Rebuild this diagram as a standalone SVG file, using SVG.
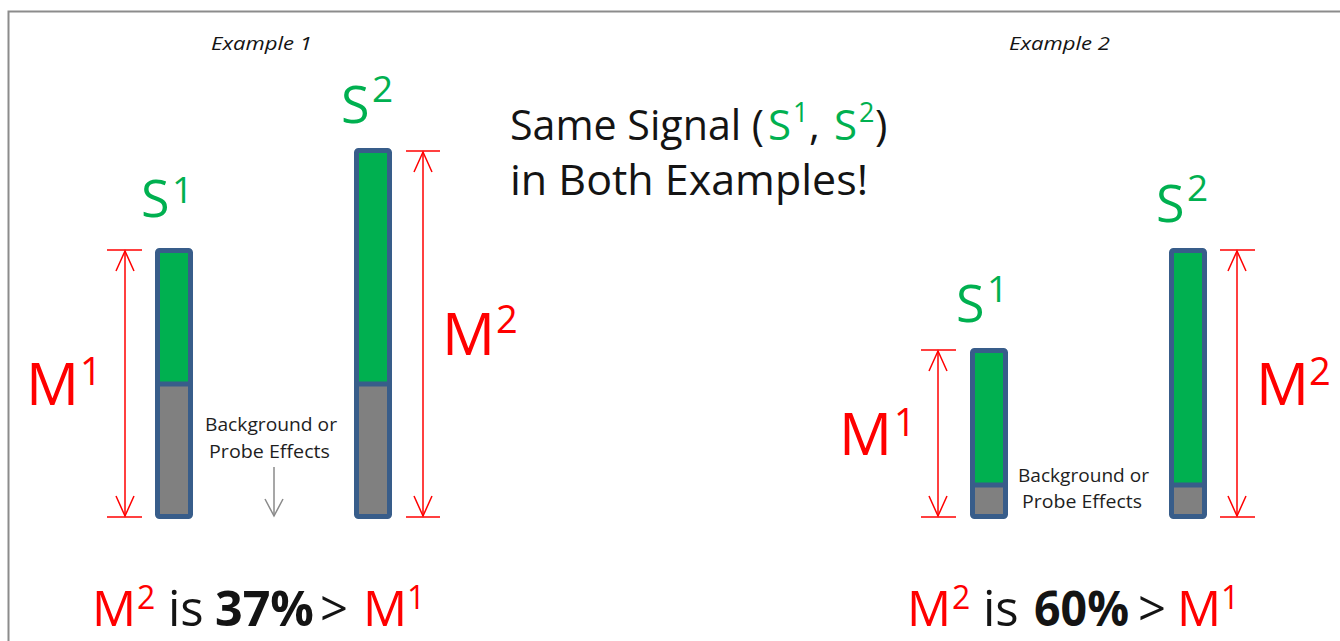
<svg xmlns="http://www.w3.org/2000/svg" width="1340" height="641" viewBox="0 0 1340 641">
  <defs>
    <style>
      text { font-family: "Open Sans", "Liberation Sans", sans-serif; }
      .ink { fill: #141414; }
      .sig { fill: #00b050; }
      .meas { fill: #ff0000; }
      .cap { font-size: 19px; font-style: italic; fill: #141414; }
      .note { font-size: 18px; fill: #1e1e1e; }
      .bar-outline { fill: none; stroke: #385d8a; stroke-width: 5; }
      .bar-div { stroke: #385d8a; stroke-width: 5; }
      .green { fill: #00b050; }
      .grey { fill: #808080; }
      .dim { stroke: #ff0000; stroke-width: 1.5; fill: none; }
      .tick { stroke: #ff0000; stroke-width: 1.5; }
      .lead { stroke: #8a8a8a; stroke-width: 1.5; fill: none; }
    </style>
    <marker id="vRed" markerUnits="userSpaceOnUse" orient="auto-start-reverse" refX="0" refY="0" overflow="visible">
      <path d="M-20,-9 L0,0 L-20,9" fill="none" stroke="#ff0000" stroke-width="1.5"/>
    </marker>
    <marker id="vGrey" markerUnits="userSpaceOnUse" orient="auto" refX="0" refY="0" overflow="visible">
      <path d="M-17,-9 L0,0 L-17,9" fill="none" stroke="#8a8a8a" stroke-width="1.5"/>
    </marker>
  </defs>

  <rect x="0" y="0" width="1340" height="641" fill="#ffffff"/>
  <!-- frame -->
  <path d="M8.5,641 L8.5,11.5 L1340,11.5" fill="none" stroke="#8c8c8c" stroke-width="2"/>

  <!-- captions -->
  <text class="cap" x="211" y="50" textLength="101" lengthAdjust="spacingAndGlyphs">Example 1</text>
  <text class="cap" x="1009" y="50" textLength="101" lengthAdjust="spacingAndGlyphs">Example 2</text>

  <!-- headline -->
  <g id="headline" font-size="42">
    <text class="ink" x="510" y="140" textLength="254" lengthAdjust="spacingAndGlyphs">Same Signal (</text>
    <text class="sig" x="768" y="140">S</text>
    <text class="sig" x="793" y="122" font-size="27">1</text>
    <text class="ink" x="809" y="140">,</text>
    <text class="sig" x="834" y="140">S</text>
    <text class="sig" x="859" y="122" font-size="27">2</text>
    <text class="ink" x="875" y="140">)</text>
    <text class="ink" x="510" y="195" textLength="358" lengthAdjust="spacingAndGlyphs">in Both Examples!</text>
  </g>

  <!-- Example 1, bar 1 -->
  <g id="ex1-bar1">
    <rect class="green" x="157.5" y="250.5" width="33" height="134"/>
    <rect class="grey" x="157.5" y="384" width="33" height="132.5"/>
    <line class="bar-div" x1="157.5" y1="384" x2="190.5" y2="384"/>
    <rect class="bar-outline" x="157.5" y="250.5" width="33" height="266" rx="2"/>
    <text class="sig" x="141" y="217" font-size="52">S</text>
    <text class="sig" x="172" y="203" font-size="37">1</text>
  </g>

  <!-- Example 1, bar 2 -->
  <g id="ex1-bar2">
    <rect class="green" x="356.5" y="150.5" width="33" height="234"/>
    <rect class="grey" x="356.5" y="384" width="33" height="132.5"/>
    <line class="bar-div" x1="356.5" y1="384" x2="389.5" y2="384"/>
    <rect class="bar-outline" x="356.5" y="150.5" width="33" height="366" rx="2"/>
    <text class="sig" x="341" y="123" font-size="52">S</text>
    <text class="sig" x="372" y="102" font-size="37">2</text>
  </g>

  <!-- Example 2, bar 1 -->
  <g id="ex2-bar1">
    <rect class="green" x="972.5" y="350.5" width="33" height="135"/>
    <rect class="grey" x="972.5" y="485" width="33" height="31.5"/>
    <line class="bar-div" x1="972.5" y1="485" x2="1005.5" y2="485"/>
    <rect class="bar-outline" x="972.5" y="350.5" width="33" height="166" rx="2"/>
    <text class="sig" x="956" y="322" font-size="52">S</text>
    <text class="sig" x="987" y="302" font-size="37">1</text>
  </g>

  <!-- Example 2, bar 2 -->
  <g id="ex2-bar2">
    <rect class="green" x="1171.5" y="250.5" width="33" height="235"/>
    <rect class="grey" x="1171.5" y="485" width="33" height="31.5"/>
    <line class="bar-div" x1="1171.5" y1="485" x2="1204.5" y2="485"/>
    <rect class="bar-outline" x="1171.5" y="250.5" width="33" height="266" rx="2"/>
    <text class="sig" x="1156" y="222" font-size="52">S</text>
    <text class="sig" x="1187" y="201" font-size="37">2</text>
  </g>

  <!-- measurement labels -->
  <g id="ex1-m1-label">
    <text class="meas" x="26" y="405" font-size="59">M</text>
    <text class="meas" x="80" y="385" font-size="38">1</text>
  </g>
  <g id="ex1-m2-label">
    <text class="meas" x="442" y="355" font-size="59">M</text>
    <text class="meas" x="496" y="333" font-size="38">2</text>
  </g>
  <g id="ex2-m1-label">
    <text class="meas" x="839" y="455" font-size="59">M</text>
    <text class="meas" x="894" y="436" font-size="38">1</text>
  </g>
  <g id="ex2-m2-label">
    <text class="meas" x="1256" y="405" font-size="59">M</text>
    <text class="meas" x="1309" y="385" font-size="38">2</text>
  </g>

  <!-- background notes -->
  <g id="ex1-note">
    <text class="note" x="205" y="431" textLength="132" lengthAdjust="spacingAndGlyphs">Background or</text>
    <text class="note" x="209" y="458" textLength="121" lengthAdjust="spacingAndGlyphs">Probe Effects</text>
  </g>
  <g id="ex2-note">
    <text class="note" x="1018" y="482" textLength="131" lengthAdjust="spacingAndGlyphs">Background or</text>
    <text class="note" x="1022" y="508" textLength="120" lengthAdjust="spacingAndGlyphs">Probe Effects</text>
  </g>

  <!-- dimension lines and pointer -->
  <g id="connectors">
    <line class="tick" x1="107" y1="250" x2="142" y2="250"/>
    <line class="tick" x1="107" y1="517" x2="142" y2="517"/>
    <line class="dim" x1="125" y1="251" x2="125" y2="516" marker-start="url(#vRed)" marker-end="url(#vRed)"/>

    <line class="tick" x1="406" y1="151" x2="440" y2="151"/>
    <line class="tick" x1="406" y1="517" x2="440" y2="517"/>
    <line class="dim" x1="423" y1="152" x2="423" y2="516" marker-start="url(#vRed)" marker-end="url(#vRed)"/>

    <line class="tick" x1="921" y1="350" x2="956" y2="350"/>
    <line class="tick" x1="921" y1="517" x2="956" y2="517"/>
    <line class="dim" x1="938" y1="351" x2="938" y2="516" marker-start="url(#vRed)" marker-end="url(#vRed)"/>

    <line class="tick" x1="1220" y1="250" x2="1255" y2="250"/>
    <line class="tick" x1="1220" y1="517" x2="1255" y2="517"/>
    <line class="dim" x1="1237" y1="251" x2="1237" y2="516" marker-start="url(#vRed)" marker-end="url(#vRed)"/>

    <line class="lead" x1="274" y1="467" x2="274" y2="516" marker-end="url(#vGrey)"/>
  </g>

  <!-- conclusions -->
  <g id="ex1-result" font-size="49">
    <text class="meas" x="92" y="626">M</text>
    <text class="meas" x="137" y="609" font-size="32">2</text>
    <text class="ink" x="168" y="626">is</text>
    <text class="ink" x="215" y="626" font-weight="bold" textLength="99" lengthAdjust="spacingAndGlyphs">37%</text>
    <text class="ink" x="320" y="626">&gt;</text>
    <text class="meas" x="363" y="626">M</text>
    <text class="meas" x="407" y="609" font-size="32">1</text>
  </g>
  <g id="ex2-result" font-size="49">
    <text class="meas" x="907" y="626">M</text>
    <text class="meas" x="952" y="609" font-size="32">2</text>
    <text class="ink" x="983" y="626">is</text>
    <text class="ink" x="1034" y="626" font-weight="bold" textLength="95" lengthAdjust="spacingAndGlyphs">60%</text>
    <text class="ink" x="1138" y="626">&gt;</text>
    <text class="meas" x="1177" y="626">M</text>
    <text class="meas" x="1221" y="609" font-size="32">1</text>
  </g>
</svg>
